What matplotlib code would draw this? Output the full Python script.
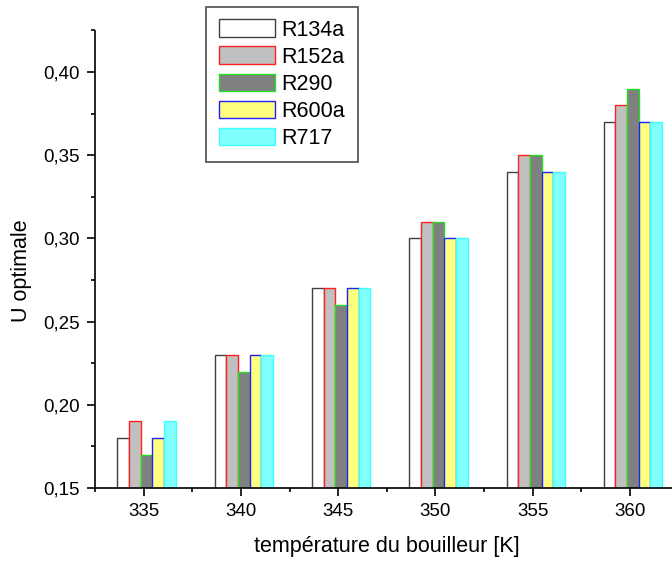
import matplotlib
matplotlib.use("Agg")
import matplotlib.pyplot as plt
from matplotlib.ticker import MultipleLocator, FuncFormatter
import numpy as np

plt.rcParams['font.family'] = ['Liberation Sans', 'DejaVu Sans']

temperatures = [335, 340, 345, 350, 355, 360]
series_names = ["R134a", "R152a", "R290", "R600a", "R717"]
R134a = [0.18, 0.23, 0.27, 0.30, 0.34, 0.37]
R152a = [0.19, 0.23, 0.27, 0.31, 0.35, 0.38]
R290 = [0.17, 0.22, 0.26, 0.31, 0.35, 0.39]
R600a = [0.18, 0.23, 0.27, 0.30, 0.34, 0.37]
R717 = [0.19, 0.23, 0.27, 0.30, 0.34, 0.37]
series = [R134a, R152a, R290, R600a, R717]

faces = ["#FFFFFF", "#C0C0C0", "#808080", "#FFFF80", "#80FFFF"]
edges = ["#404040", "#FF2020", "#20E020", "#2020FF", "#40FFFF"]

fig = plt.figure(figsize=(6.72, 5.63), dpi=100)
ax = fig.add_axes([95/672, 75/563, (678.7-95)/672, (488-30.5)/563])

bw = 0.6
x = np.array(temperatures, dtype=float)
for i, (name, vals) in enumerate(zip(series_names, series)):
    ax.bar(x + (i - 2) * bw + 0.15, vals, width=bw, color=faces[i],
           edgecolor=edges[i], linewidth=1.0, label=name, zorder=2)

ax.set_xlim(332.5, 362.5)
ax.set_ylim(0.15, 0.425)
ax.xaxis.set_major_locator(MultipleLocator(5))
ax.xaxis.set_minor_locator(MultipleLocator(2.5))
ax.yaxis.set_major_locator(MultipleLocator(0.05))
ax.yaxis.set_minor_locator(MultipleLocator(0.025))
ax.yaxis.set_major_formatter(FuncFormatter(lambda v, p: f"{v:.2f}".replace('.', ',')))

for s in ['top', 'right']:
    ax.spines[s].set_visible(False)
for s in ['left', 'bottom']:
    ax.spines[s].set_linewidth(1.2)
    ax.spines[s].set_zorder(3)

ax.tick_params(axis='both', which='major', direction='out', length=6, width=1.2,
               labelsize=13.5)
ax.tick_params(axis='both', which='minor', direction='out', length=3, width=1.2)
ax.tick_params(axis='x', which='major', pad=5)
ax.tick_params(axis='y', which='major', pad=5)

ax.set_xlabel("température du bouilleur [K]", fontsize=15.5, labelpad=11)
ax.set_ylabel("U optimale", fontsize=15.5, labelpad=8)
ax.yaxis.label.set_y(0.475)

leg = fig.legend(loc='upper left', bbox_to_anchor=(206/672, 1 - 6.5/563),
                 fontsize=15.5, frameon=True, fancybox=False, shadow=False,
                 handlelength=2.6, handleheight=0.88, handletextpad=0.3,
                 labelspacing=0.27, borderpad=0.6, borderaxespad=0)
leg.get_frame().set_edgecolor('#202020')
leg.get_frame().set_linewidth(1.2)

fig.savefig("out.png", dpi=100)
